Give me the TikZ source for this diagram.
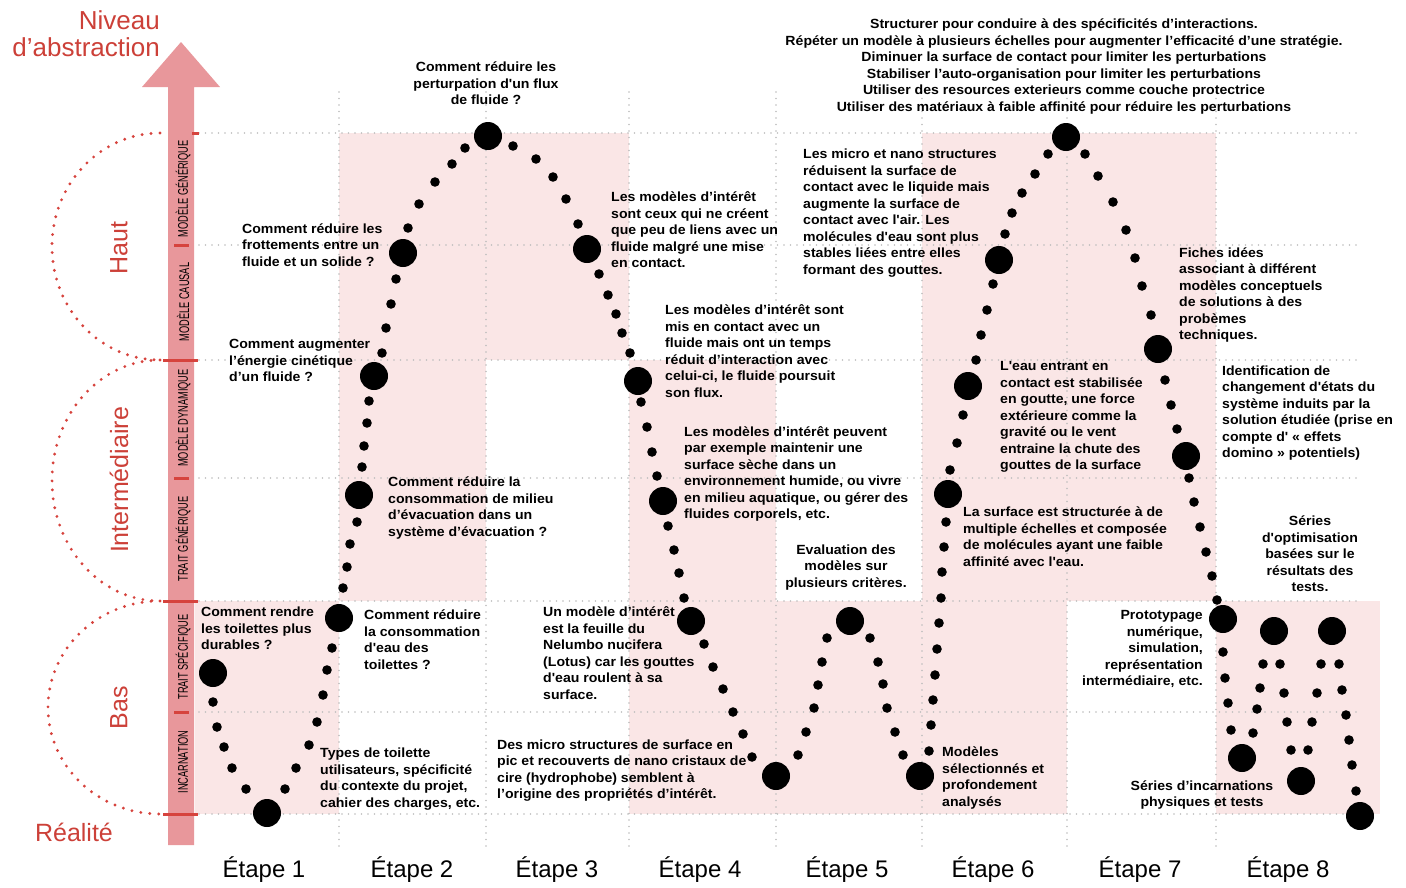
\documentclass[tikz,border=0pt]{standalone}
\usepackage{fontspec}
\setmainfont{Liberation Sans}
\newfontfamily\condfont[FakeStretch=0.66]{Liberation Sans}
\newfontfamily\bodyfont[FakeStretch=1.06]{Liberation Sans}
\definecolor{bgpink}{HTML}{FAE6E6}
\definecolor{arrowpink}{HTML}{E8979B}
\definecolor{tickred}{HTML}{D6433D}
\definecolor{labred}{HTML}{CC4038}
\definecolor{gridgray}{HTML}{BDBDBD}
\begin{document}
\begin{tikzpicture}[x=1pt,y=-1pt,
  txt/.style={font=\bodyfont\bfseries\fontsize{13.3}{16.5}\selectfont, inner sep=0pt, align=left},
  ctxt/.style={txt, align=center},
  rtxt/.style={txt, align=right},
  etape/.style={font=\fontsize{24}{28}\selectfont, inner sep=0pt},
  axlab/.style={font=\condfont\fontsize{14}{14}\selectfont, rotate=90, inner sep=0pt},
  redlab/.style={font=\fontsize{25}{27}\selectfont, text=labred, inner sep=0pt},
  gridline/.style={gridgray, line width=1.6pt, dash pattern=on 0pt off 6.5pt, line cap=round},
  reddots/.style={tickred, line width=3.2pt, dash pattern=on 0pt off 9pt, line cap=round},
  redtick/.style={tickred, line width=3pt}]
\useasboundingbox (0,0) rectangle (1406,887);
% pink zones
\fill[bgpink] (195,601) rectangle (339,814);
\fill[bgpink] (339,133) rectangle (486,601);
\fill[bgpink] (486,133) rectangle (629,360);
\fill[bgpink] (629,360) rectangle (776,814);
\fill[bgpink] (776,601) rectangle (922,814);
\fill[bgpink] (922,133) rectangle (1067,814);
\fill[bgpink] (1067,133) rectangle (1216,601);
\fill[bgpink] (1216,601) rectangle (1380,814);
% grid
\foreach \y in {133,245,360,478,601,712,814} \draw[gridline] (199,\y) -- (1360,\y);
\foreach \x in {339,486,629,776,922,1067,1216} \draw[gridline] (\x,92) -- (\x,848);
% axis arrow
\fill[arrowpink] (168,845) -- (168,87) -- (142,87) -- (181,42) -- (220,87) -- (194,87) -- (194,845) -- cycle;
\draw[redtick] (192,133) -- (199,133);
\foreach \y in {360,601,814} \draw[redtick] (163,\y) -- (198,\y);
\foreach \y in {245,478,712} \draw[redtick] (174,\y) -- (189,\y);
% axis labels
\node[axlab] (ag) at (183,189) {MODÈLE GÉNÉRIQUE};
\node[axlab] (ac) at (183,302) {MODÈLE CAUSAL};
\node[axlab] (ad) at (183,418) {MODÈLE DYNAMIQUE};
\node[axlab] (at) at (183,539) {TRAIT GÉNÉRIQUE};
\node[axlab] (as) at (183,657) {TRAIT SPÉCIFIQUE};
\node[axlab] (ai) at (183,762) {INCARNATION};
% red dotted brackets
\draw[reddots] (160,133) arc[start angle=270, end angle=90, x radius=108, y radius=113.5];
\draw[reddots] (160,360) arc[start angle=270, end angle=90, x radius=108, y radius=120.5];
\draw[reddots] (160,601) arc[start angle=270, end angle=90, x radius=112, y radius=106.5];
% red labels
\node[redlab, font=\fontsize{26}{27}\selectfont, align=right, anchor=east] (niv) at (160,33.5) {Niveau\\d’abstraction};
\node[redlab, rotate=90] (haut) at (119,248) {Haut};
\node[redlab, rotate=90] (inter) at (119,480) {Intermédiaire};
\node[redlab, rotate=90] (bas) at (119,708) {Bas};
\node[redlab] (real) at (74,832) {Réalité};
% big dots
\foreach \p in {(213,673),(267,813),(339,618),(359,495),(374,376),(403,253),(488,136),(587,249),(638,381),(663,501),(691,621),(776,776),(850,621),(920,776),(948,494),(968,386),(999,260),(1066,137),(1158,349),(1186,456),(1223,619),(1242,758),(1274,631),(1301,781),(1332,631),(1360,816)}
  \fill \p circle[radius=14pt];
% small dots
\foreach \p in {(213,702),(217,727),(224,747),(232,768),(246,789),(285,789),(296,768),(309,745),(317,722),(323,695),(327,670),(332,648),
(343,588),(347,567),(350,544),(357,522),(362,467),(364,446),(367,423),(369,401),(382,353),(386,328),(391,304),(396,279),(408,228),(419,204),(435,182),(452,164),(465,148),
(513,146),(536,159),(553,177),(566,199),(578,224),(599,274),(608,295),(616,314),(622,333),(630,353),
(641,402),(647,427),(652,452),(657,476),(668,526),(674,550),(679,573),(684,598),(704,644),(713,667),(723,689),(733,712),(743,734),(752,757),
(798,755),(806,732),(814,708),(818,685),(822,662),(827,638),(870,638),(878,662),(883,684),(887,708),(895,732),(903,755),
(929,751),(931,725),(933,700),(935,675),(937,649),(939,623),(941,598),(942,572),(944,547),(946,522),(950,470),(957,443),(963,415),(976,360),(981,335),(987,310),(993,284),(1005,234),(1012,213),(1022,193),(1035,174),(1048,154),
(1085,154),(1098,176),(1113,202),(1126,230),(1135,258),(1142,286),(1151,315),(1165,380),(1171,405),(1177,429),(1189,478),(1194,502),(1200,527),(1206,552),(1212,576),(1217,600),
(1223,652),(1225,678),(1228,703),(1231,730),(1253,733),(1257,709),(1260,688),(1263,664),(1280,664),(1284,693),(1287,722),(1291,750),(1308,750),(1312,722),(1317,693),(1321,664),(1339,664),(1342,690),(1346,715),(1349,740),(1352,765),(1356,791)}
  \fill \p circle[radius=4.8pt];
% texts
\node[ctxt] (t1) at (486,83.5) {Comment réduire les\\perturpation d'un flux\\de fluide ?};
\node[txt, anchor=west] (t2) at (242,245) {Comment réduire les\\frottements entre un\\fluide et un solide ?};
\node[txt, anchor=west] (t3) at (229,360.5) {Comment augmenter\\l’énergie cinétique\\d’un fluide ?};
\node[txt, anchor=west] (t4) at (388,508) {Comment réduire la\\consommation de milieu\\d’évacuation dans un\\système d’évacuation ?};
\node[txt, anchor=west] (t5) at (201,628.5) {Comment rendre\\les toilettes plus\\durables ?};
\node[txt, anchor=west] (t6) at (364,639.5) {Comment réduire\\la consommation\\d'eau des\\toilettes ?};
\node[txt, anchor=west] (t7) at (320,779) {Types de toilette\\utilisateurs, spécificité\\du contexte du projet,\\cahier des charges, etc.};
\node[txt, anchor=west] (t8) at (611,230) {Les modèles d’intérêt\\sont ceux qui ne créent\\que peu de liens avec un\\fluide malgré une mise\\en contact.};
\node[txt, anchor=west] (t9) at (665,351) {Les modèles d’intérêt sont\\mis en contact avec un\\fluide mais ont un temps\\réduit d’interaction avec\\celui-ci, le fluide poursuit\\son flux.};
\node[txt, anchor=west] (t10) at (684,474) {Les modèles d’intérêt peuvent\\par exemple maintenir une\\surface sèche dans un\\environnement humide, ou vivre\\en milieu aquatique, ou gérer des\\fluides corporels, etc.};
\node[txt, anchor=west] (t11) at (543,653) {Un modèle d’intérêt\\est la feuille du\\Nelumbo nucifera\\(Lotus) car les gouttes\\d'eau roulent à sa\\surface.};
\node[txt, anchor=west] (t12) at (497,770.5) {Des micro structures de surface en\\pic et recouverts de nano cristaux de\\cire (hydrophobe) semblent à\\l’origine des propriétés d’intérêt.};
\node[ctxt] (t13) at (846,567.5) {Evaluation des\\modèles sur\\plusieurs critères.};
\node[txt, anchor=west] (t14) at (803,213) {Les micro et nano structures\\réduisent la surface de\\contact avec le liquide mais\\augmente la surface de\\contact avec l'air. Les\\molécules d'eau sont plus\\stables liées entre elles\\formant des gouttes.};
\node[txt, anchor=west] (t15) at (1000,417) {L'eau entrant en\\contact est stabilisée\\en goutte, une force\\extérieure comme la\\gravité ou le vent\\entraine la chute des\\gouttes de la surface};
\node[txt, anchor=west] (t16) at (963,536.5) {La surface est structurée à de\\multiple échelles et composée\\de molécules ayant une faible\\affinité avec l'eau.};
\node[txt, anchor=west] (t17) at (942,778) {Modèles\\sélectionnés et\\profondement\\analysés};
\node[ctxt] (t18) at (1064,66.5) {Structurer pour conduire à des spécificités d’interactions.\\Répéter un modèle à plusieurs échelles pour augmenter l’efficacité d’une stratégie.\\Diminuer la surface de contact pour limiter les perturbations\\Stabiliser l’auto-organisation pour limiter les perturbations\\Utiliser des resources exterieurs comme couche protectrice\\Utiliser des matériaux à faible affinité pour réduire les perturbations};
\node[txt, anchor=west] (t19) at (1179,295) {Fiches idées\\associant à différent\\modèles conceptuels\\de solutions à des\\probèmes\\techniques.};
\node[txt, anchor=west] (t20) at (1222,413) {Identification de\\changement d'états du\\système induits par la\\solution étudiée (prise en\\compte d' « effets\\domino » potentiels)};
\node[ctxt] (t21) at (1310,554) {Séries\\d'optimisation\\basées sur le\\résultats des\\tests.};
\node[rtxt, anchor=east] (t22) at (1203,649) {Prototypage\\numérique,\\simulation,\\représentation\\intermédiaire, etc.};
\node[ctxt] (t23) at (1202,795) {Séries d’incarnations\\physiques et tests};
% etapes
\node[etape] (e1) at (264,870) {Étape 1};
\node[etape] (e2) at (412,870) {Étape 2};
\node[etape] (e3) at (557,870) {Étape 3};
\node[etape] (e4) at (700,870) {Étape 4};
\node[etape] (e5) at (847,870) {Étape 5};
\node[etape] (e6) at (993,870) {Étape 6};
\node[etape] (e7) at (1140,870) {Étape 7};
\node[etape] (e8) at (1288,870) {Étape 8};
\end{tikzpicture}
\end{document}
